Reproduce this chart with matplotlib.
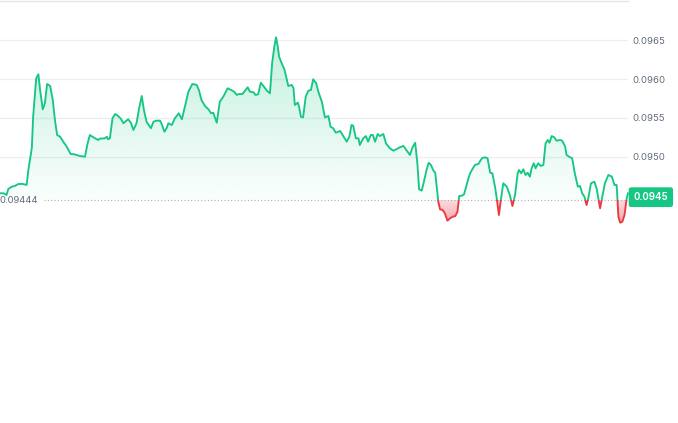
import numpy as np
import matplotlib
matplotlib.use("Agg")
import matplotlib.pyplot as plt
from matplotlib.path import Path
from matplotlib.patches import Rectangle
from matplotlib.colors import to_rgb
import matplotlib.transforms as mtransforms

plt.rcParams['font.family'] = ['Inter', 'DejaVu Sans']

# ---- data (minutes since start of the 24h window, price) ----
minutes = [0, 8, 15, 19, 27, 34, 42, 53, 61, 65, 73, 76, 83, 88, 92, 98, 103, 108, 115, 121,
           126, 131, 138, 145, 153, 162, 170, 183, 195, 200, 206, 214, 225, 229, 241, 245, 248, 252, 258, 264,
           271, 277, 283, 287, 294, 300, 306, 313, 319, 325, 330, 336, 346, 352, 359, 367, 371, 377, 382, 386,
           394, 401, 410, 417, 424, 432, 441, 451, 456, 462, 470, 478, 484, 489, 497, 504, 512, 522, 530, 537,
           543, 548, 556, 560, 568, 573, 581, 586, 592, 598, 604, 612, 619, 624, 629, 633, 637, 640, 646, 652,
           657, 661, 669, 673, 676, 683, 686, 690, 695, 701, 707, 713, 718, 725, 730, 738, 745, 753, 758, 764,
           770, 780, 787, 795, 801, 806, 810, 816, 822, 825, 833, 839, 844, 850, 855, 860, 866, 871, 879, 885,
           894, 902, 910, 917, 925, 933, 940, 946, 952, 957, 961, 967, 972, 978, 983, 988, 994, 998, 1005, 1009,
           1015, 1020, 1026, 1032, 1038, 1044, 1049, 1053, 1059, 1064, 1070, 1074, 1078, 1082, 1089, 1097, 1105, 1112, 1118, 1124,
           1129, 1135, 1139, 1144, 1149, 1154, 1162, 1169, 1175, 1181, 1187, 1190, 1195, 1200, 1205, 1210, 1215, 1219, 1224, 1228,
           1234, 1240, 1246, 1251, 1256, 1260, 1265, 1271, 1276, 1284, 1289, 1296, 1299, 1305, 1312, 1318, 1325, 1330, 1335, 1340,
           1345, 1349, 1355, 1363, 1368, 1376, 1381, 1387, 1395, 1403, 1409, 1414, 1418, 1422, 1427, 1432, 1437, 1440]

prices = [0.094528, 0.094528, 0.094506, 0.094583, 0.094613, 0.094622, 0.094648, 0.094648, 0.094635, 0.094828,
          0.095112, 0.095515, 0.096010, 0.096062, 0.095859, 0.095610, 0.095688, 0.095937, 0.095911, 0.095730,
          0.095473, 0.095279, 0.095257, 0.095193, 0.095129, 0.095034, 0.095031, 0.095009, 0.095000, 0.095150,
          0.095279, 0.095250, 0.095215, 0.095232, 0.095237, 0.095257, 0.095224, 0.095237, 0.095495, 0.095550,
          0.095524, 0.095489, 0.095430, 0.095451, 0.095482, 0.095438, 0.095344, 0.095430, 0.095623, 0.095782,
          0.095601, 0.095451, 0.095366, 0.095451, 0.095464, 0.095464, 0.095417, 0.095322, 0.095366, 0.095430,
          0.095408, 0.095495, 0.095559, 0.095482, 0.095644, 0.095837, 0.095937, 0.095924, 0.095859, 0.095730,
          0.095653, 0.095610, 0.095559, 0.095567, 0.095438, 0.095708, 0.095773, 0.095881, 0.095859, 0.095837,
          0.095795, 0.095808, 0.095808, 0.095837, 0.095894, 0.095837, 0.095830, 0.095795, 0.095804, 0.095953,
          0.095911, 0.095850, 0.095817, 0.096203, 0.096417, 0.096538, 0.096417, 0.096288, 0.096203, 0.096126,
          0.096010, 0.095911, 0.095924, 0.095881, 0.095666, 0.095696, 0.095636, 0.095515, 0.095507, 0.095773,
          0.095850, 0.095859, 0.095997, 0.095946, 0.095837, 0.095708, 0.095507, 0.095524, 0.095386, 0.095366,
          0.095309, 0.095331, 0.095266, 0.095193, 0.095257, 0.095408, 0.095399, 0.095237, 0.095237, 0.095150,
          0.095237, 0.095266, 0.095193, 0.095279, 0.095279, 0.095193, 0.095292, 0.095266, 0.095292, 0.095172,
          0.095108, 0.095077, 0.095099, 0.095121, 0.095138, 0.095077, 0.095022, 0.095121, 0.095180, 0.094915,
          0.094580, 0.094562, 0.094677, 0.094828, 0.094922, 0.094893, 0.094819, 0.094793, 0.094420, 0.094322,
          0.094313, 0.094270, 0.094175, 0.094206, 0.094226, 0.094235, 0.094291, 0.094493, 0.094497, 0.094515,
          0.094635, 0.094721, 0.094786, 0.094828, 0.094893, 0.094906, 0.094979, 0.094992, 0.094979, 0.094793,
          0.094786, 0.094613, 0.094464, 0.094248, 0.094464, 0.094657, 0.094613, 0.094506, 0.094364, 0.094506,
          0.094786, 0.094828, 0.094786, 0.094837, 0.094764, 0.094793, 0.094742, 0.094850, 0.094915, 0.094850,
          0.094915, 0.094880, 0.094893, 0.095172, 0.095215, 0.095180, 0.095266, 0.095250, 0.095206, 0.095215,
          0.095206, 0.095129, 0.095022, 0.095000, 0.094979, 0.094786, 0.094613, 0.094622, 0.094528, 0.094484,
          0.094377, 0.094464, 0.094657, 0.094677, 0.094592, 0.094335, 0.094484, 0.094657, 0.094764, 0.094742,
          0.094635, 0.094635, 0.094226, 0.094149, 0.094162, 0.094248, 0.094464, 0.094528]

base_price = 0.09444
ytick_values = [0.0950, 0.0955, 0.0960, 0.0965]
last_label = "0.0945"
base_label = "0.09444"

GREEN = "#16c784"
RED = "#ea3943"
GRAY_TXT = "#616b7d"

t = np.array(minutes, dtype=float)
p = np.array(prices, dtype=float)

fig = plt.figure(figsize=(6.78, 4.23), dpi=100)
ax = fig.add_axes([0.0, 1 - 230 / 423, 628 / 678, 229 / 423])
ymin, ymax = 0.094055, 0.097006
ax.set_xlim(0, 1440)
ax.set_ylim(ymin, ymax)


def gradient_fill(where, color, extent, a_bottom, a_top):
    poly = ax.fill_between(t, p, base_price, where=where, interpolate=True,
                           facecolor='none', edgecolor='none', lw=0)
    paths = poly.get_paths()
    if not paths:
        return
    comp = Path.make_compound_path(*paths)
    n = 256
    rgb = to_rgb(color)
    img = np.zeros((n, 1, 4))
    img[:, 0, 0] = rgb[0]
    img[:, 0, 1] = rgb[1]
    img[:, 0, 2] = rgb[2]
    img[:, 0, 3] = np.linspace(a_bottom, a_top, n)
    im = ax.imshow(img, extent=extent, origin='lower', aspect='auto', zorder=1,
                   interpolation='bilinear')
    im.set_clip_path(comp, transform=ax.transData)


pmax = p.max()
pmin = p.min()
gradient_fill(p >= base_price, GREEN, (0, 1440, base_price, pmax), 0.02, 0.26)
gradient_fill(p <= base_price, RED, (0, 1440, pmin, base_price), 0.45, 0.18)
ax.set_xlim(0, 1440)
ax.set_ylim(ymin, ymax)

# line, split in colour at the baseline
lg, = ax.plot(t, p, color=GREEN, lw=1.35, zorder=3, solid_joinstyle='round')
lr, = ax.plot(t, p, color=RED, lw=1.35, zorder=3, solid_joinstyle='round')
up = Rectangle((-100, base_price), 2000, 1.0, transform=ax.transData)
dn = Rectangle((-100, base_price - 1.0), 2000, 1.0, transform=ax.transData)
lg.set_clip_path(up)
lr.set_clip_path(dn)

# grid
for v in ytick_values:
    ax.axhline(v, color="#eceef1", lw=0.9, zorder=0)

# baseline dotted
ax.axhline(base_price, xmin=44 / 628, xmax=1.0, color="#a8adb5", lw=0.8,
           ls=(0, (1, 2)), zorder=2)
ax.text(0.0, base_price, base_label, transform=mtransforms.blended_transform_factory(ax.transAxes, ax.transData),
        ha='left', va='center', fontsize=6.8, color=GRAY_TXT, zorder=4)

# spines
for s in ['left', 'right', 'bottom']:
    ax.spines[s].set_visible(False)
ax.spines['top'].set_color('#e3e5e8')
ax.spines['top'].set_linewidth(1.0)

ax.set_xticks([])
ax.yaxis.tick_right()
ax.set_yticks(ytick_values)
ax.set_yticklabels([f"{v:.4f}" for v in ytick_values])
ax.tick_params(axis='y', length=0, pad=3.5, labelsize=6.9, labelcolor=GRAY_TXT)

# last price badge
ax.annotate(last_label, xy=(1.0, p[-1]),
            xycoords=mtransforms.blended_transform_factory(ax.transAxes, ax.transData),
            xytext=(4.0, -2.8), textcoords='offset points', ha='left', va='center',
            fontsize=7, color='white', fontweight='semibold', zorder=5, annotation_clip=False,
            bbox=dict(boxstyle='round,pad=0.5,rounding_size=0.25', fc=GREEN, ec='none'))

fig.savefig("out.png", dpi=100, facecolor='white')
